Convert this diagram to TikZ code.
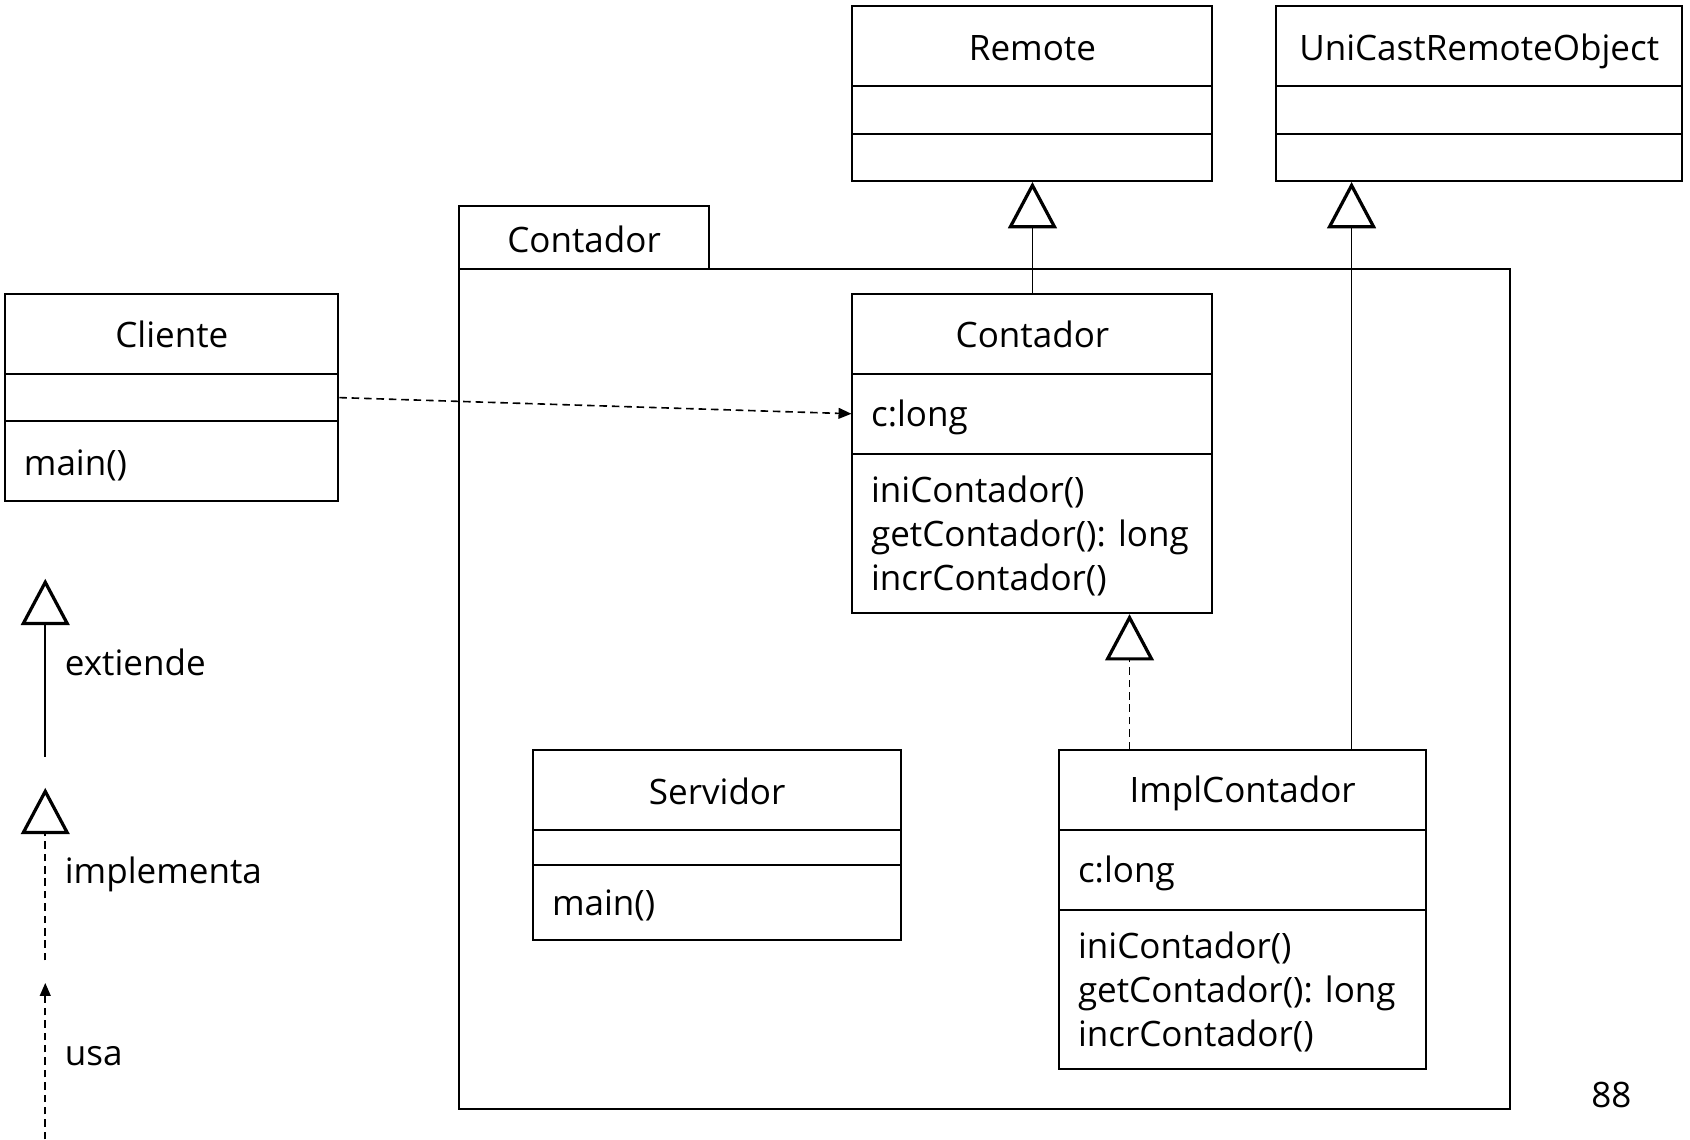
\documentclass[tikz,border=0pt]{standalone}
\usepackage{fontspec}
\setmainfont{Open Sans}
\usetikzlibrary{arrows.meta}
\begin{document}
\begin{tikzpicture}[x=1pt,y=-1pt,
  box/.style={draw, line width=1.8pt, inner sep=0pt, anchor=north west, minimum width=#1},
  txt/.style={inner sep=0pt, font=\fontsize{32.5}{41}\selectfont},
  ttl/.style={txt, anchor=base},
  lft/.style={txt, anchor=base west},
  ext/.style={line width=1.6pt, -{Triangle[open, length=43pt, width=45pt, line width=3pt]}},
  impl/.style={line width=1.6pt, dash pattern=on 7pt off 4.5pt, -{Triangle[open, length=43pt, width=45pt, line width=3pt]}},
  usa/.style={line width=1.5pt, dash pattern=on 7pt off 4.5pt, -{Triangle[length=12pt, width=10pt]}}]
\useasboundingbox (0,0) rectangle (1568,1057);

% Remote
\node[box=334pt, minimum height=74pt] (remT) at (790,5) {};
\node[box=334pt, minimum height=44pt] (remA) at (790,79) {};
\node[box=334pt, minimum height=44pt] (remM) at (790,123) {};
\node[ttl] (remN) at ([yshift=-51pt]remT.north) {Remote};

% UniCastRemoteObject
\node[box=377pt, minimum height=74pt] (uniT) at (1183,5) {};
\node[box=377pt, minimum height=44pt] (uniA) at (1183,79) {};
\node[box=377pt, minimum height=44pt] (uniM) at (1183,123) {};
\node[ttl] (uniN) at ([yshift=-51pt]uniT.north) {UniCastRemoteObject};

% Package
\node[box=975pt, minimum height=779pt] (pkg) at (425,249) {};
\node[box=232pt, minimum height=59pt] (pkgTab) at (425,190) {};
\node[ttl] (pkgN) at ([yshift=-44pt]pkgTab.north) {Contador};

% Contador class
\node[box=334pt, minimum height=74pt] (contT) at (790,272) {};
\node[box=334pt, minimum height=74pt] (contA) at (790,346) {};
\node[box=334pt, minimum height=148pt] (contM) at (790,420) {};
\node[ttl] (contN) at ([yshift=-50pt]contT.north) {Contador};
\node[lft] (contA1) at ([shift={(18pt,-50pt)}]contA.north west) {c:long};
\node[lft] (contM1) at ([shift={(18pt,-46pt)}]contM.north west) {iniContador()};
\node[lft] (contM2) at ([shift={(18pt,-87pt)}]contM.north west) {getContador(): long};
\node[lft] (contM3) at ([shift={(18pt,-128pt)}]contM.north west) {incrContador()};

% Cliente
\node[box=309pt, minimum height=74pt] (cliT) at (4,272) {};
\node[box=309pt, minimum height=44pt] (cliA) at (4,346) {};
\node[box=309pt, minimum height=74pt] (cliM) at (4,390) {};
\node[ttl] (cliN) at ([yshift=-50pt]cliT.north) {Cliente};
\node[lft] (cliM1) at ([shift={(18pt,-51pt)}]cliM.north west) {main()};

% Servidor
\node[box=341pt, minimum height=74pt] (serT) at (494,695) {};
\node[box=341pt, minimum height=33pt] (serA) at (494,769) {};
\node[box=341pt, minimum height=69pt] (serM) at (494,802) {};
\node[ttl] (serN) at ([yshift=-51pt]serT.north) {Servidor};
\node[lft] (serM1) at ([shift={(18pt,-47pt)}]serM.north west) {main()};

% ImplContador
\node[box=340pt, minimum height=74pt] (implT) at (982,695) {};
\node[box=340pt, minimum height=74pt] (implA) at (982,769) {};
\node[box=340pt, minimum height=148pt] (implM) at (982,843) {};
\node[ttl] (implN) at ([yshift=-50pt]implT.north) {ImplContador};
\node[lft] (implA1) at ([shift={(18pt,-50pt)}]implA.north west) {c:long};
\node[lft] (implM1) at ([shift={(18pt,-46pt)}]implM.north west) {iniContador()};
\node[lft] (implM2) at ([shift={(18pt,-87pt)}]implM.north west) {getContador(): long};
\node[lft] (implM3) at ([shift={(18pt,-128pt)}]implM.north west) {incrContador()};

% connectors
\coordinate (uniX) at (1254,0);
\coordinate (implX) at (1048,0);
\draw[ext] (contT.north) -- (remM.south);
\draw[ext] (uniX |- implT.north) -- (uniX |- uniM.south);
\draw[impl] (implX |- implT.north) -- (implX |- contM.south);
\draw[usa] (cliA.east) -- (contA.west);

% legend
\coordinate (l1a) at (42,702);
\coordinate (l1b) at (42,537);
\draw[ext] (l1a) -- (l1b);
\node[lft] (l1t) at (60,627) {extiende};
\coordinate (l2a) at (42,891);
\coordinate (l2b) at (42,731);
\draw[impl] (l2a) -- (l2b);
\node[lft] (l2t) at (60,820) {implementa};
\coordinate (l3a) at (42,1057);
\coordinate (l3b) at (42,912);
\draw[usa] (l3a) -- (l3b);
\node[lft] (l3t) at (60,989) {usa};

\node[ttl] (page) at (1495,1028) {88};
\end{tikzpicture}
\end{document}
